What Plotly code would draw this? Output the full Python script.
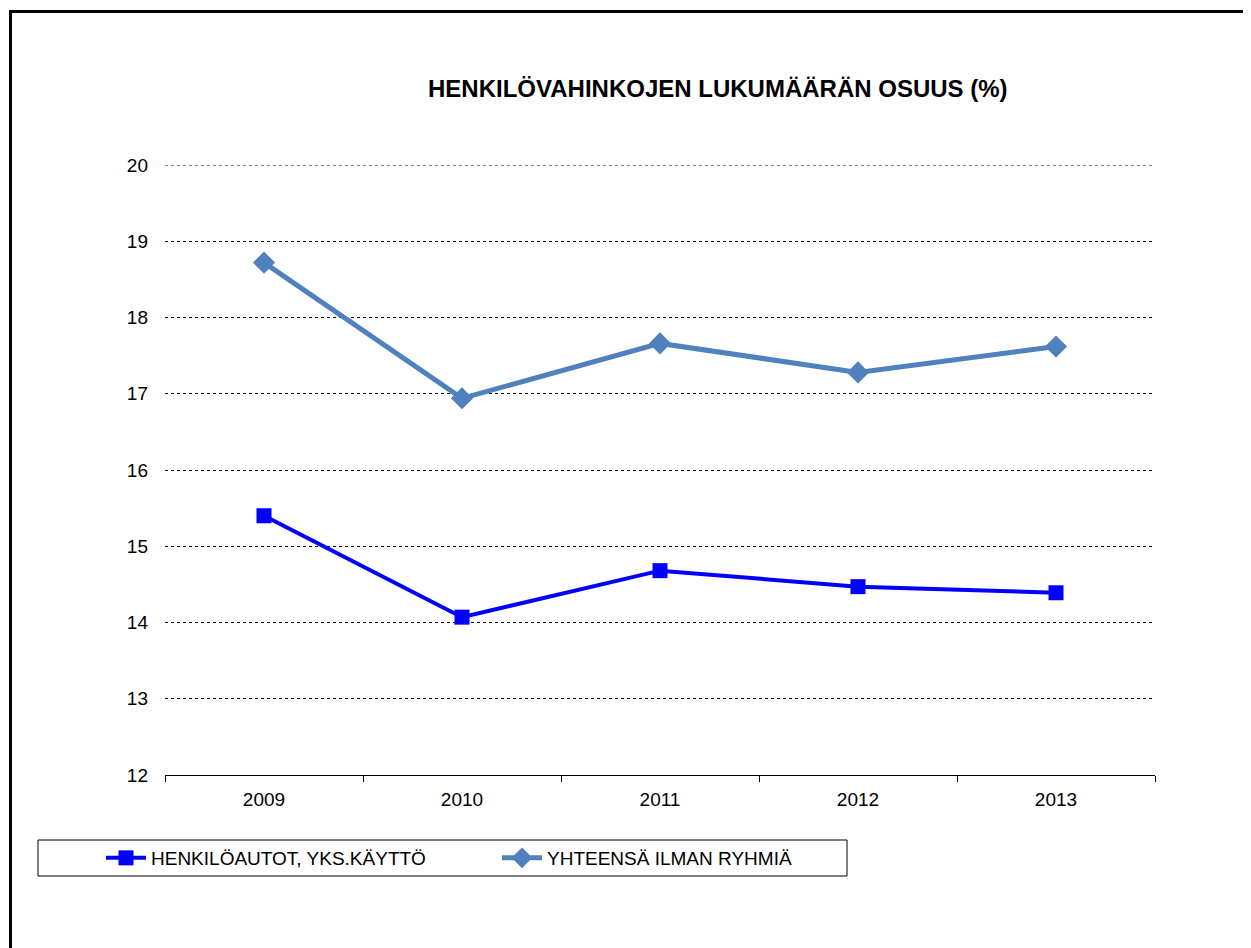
import plotly.graph_objects as go

years = ["2009", "2010", "2011", "2012", "2013"]
henkiloautot = [15.40, 14.07, 14.68, 14.47, 14.39]
yhteensa = [18.72, 16.94, 17.66, 17.28, 17.62]
y_ticks = [12, 13, 14, 15, 16, 17, 18, 19, 20]

OFF = 8  # default page body margin
W, H = 1251 - OFF, 948 - OFF
# plot area in page pixels
L, R, T, B = 165, 1155, 165, 775

def px_x(px):
    return (px - L) / (R - L)

def px_y(py):
    return (B - py) / (B - T)

fig = go.Figure()
fig.add_trace(go.Scatter(
    x=years, y=henkiloautot, mode="lines+markers",
    name="HENKILÖAUTOT, YKS.KÄYTTÖ",
    line=dict(color="#0000FF", width=4),
    marker=dict(symbol="square", size=15, color="#0000FF"),
))
fig.add_trace(go.Scatter(
    x=years, y=yhteensa, mode="lines+markers",
    name="YHTEENSÄ ILMAN RYHMIÄ",
    line=dict(color="#4F81BD", width=5),
    marker=dict(symbol="diamond", size=17, color="#4F81BD"),
))

fig.update_layout(
    width=W, height=H,
    margin=dict(l=L - OFF, r=W - (R - OFF), t=T - OFF, b=H - (B - OFF), pad=0),
    paper_bgcolor="white", plot_bgcolor="white",
    font=dict(family="Liberation Sans, Arial, sans-serif", color="black", size=19),
    showlegend=True,
    legend=dict(
        orientation="h", x=px_x(101), xanchor="left", y=px_y(858), yanchor="middle",
        font=dict(size=19, color="black"), bgcolor="rgba(0,0,0,0)",
        entrywidth=341, entrywidthmode="pixels", itemwidth=40,
    ),
    xaxis=dict(
        type="category", showline=True, linecolor="black", linewidth=1,
        ticks="outside", tickson="boundaries", ticklen=6, tickcolor="black",
        showgrid=False, tickfont=dict(size=19), range=[-0.5, 4.5],
        ticklabelstandoff=7,
    ),
    yaxis=dict(
        range=[12, 20], tickvals=y_ticks, showline=False, ticks="",
        showgrid=True, gridcolor="black", gridwidth=1, griddash="dot",
        zeroline=False, tickfont=dict(size=19), ticklabelstandoff=16,
    ),
    annotations=[dict(
        text="<b>HENKILÖVAHINKOJEN LUKUMÄÄRÄN OSUUS (%)</b>",
        x=px_x(718), y=px_y(88), xref="paper", yref="paper",
        xanchor="center", yanchor="middle", showarrow=False,
        font=dict(size=24, color="black"),
    )],
    shapes=[
        dict(type="rect", xref="paper", yref="paper",
             x0=px_x(10.5), x1=px_x(1300), y0=px_y(1000), y1=px_y(11.5),
             line=dict(color="black", width=3), fillcolor="rgba(0,0,0,0)", layer="below"),
        dict(type="rect", xref="paper", yref="paper",
             x0=px_x(38), x1=px_x(847), y0=px_y(876), y1=px_y(840),
             line=dict(color="black", width=1), fillcolor="rgba(0,0,0,0)"),
        # top gridline at the edge of the range (plotly culls it)
        dict(type="line", xref="paper", yref="y", x0=0, x1=1,
             y0=y_ticks[-1], y1=y_ticks[-1],
             line=dict(color="black", width=1, dash="dot"), layer="below"),
    ],
)

fig.write_html("out.html")
